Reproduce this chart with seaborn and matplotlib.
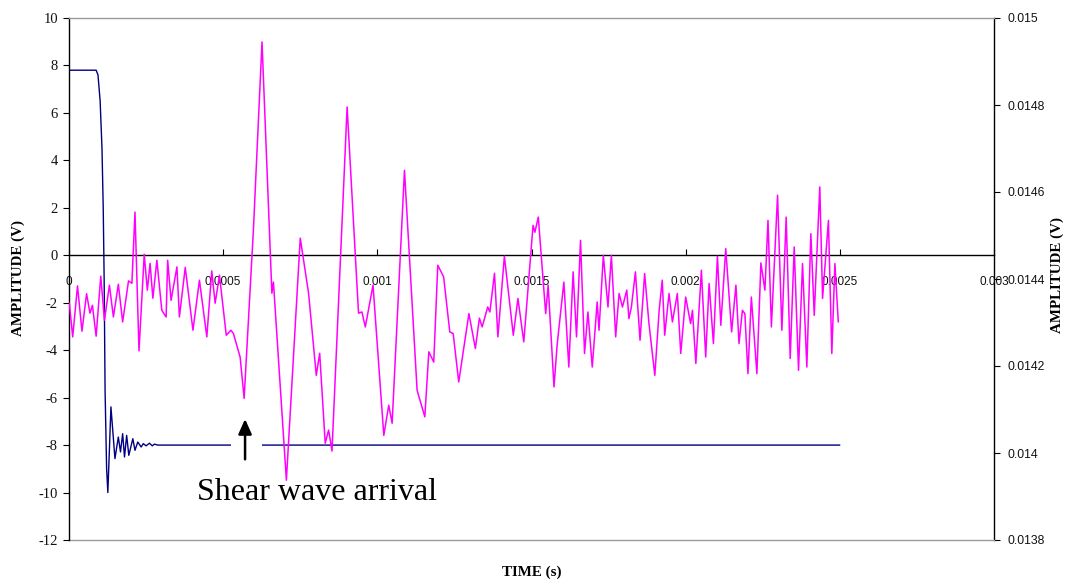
import matplotlib
matplotlib.use("Agg")
import matplotlib.pyplot as plt
import seaborn as sns
from matplotlib.patches import Rectangle

# Received signal (left axis, V)
rx_time = [1e-6, 12e-6, 27.6e-6, 42e-6, 57e-6, 68e-6, 76e-6, 88e-6, 103e-6, 115e-6,
           131e-6, 144e-6, 160e-6, 174e-6, 193e-6, 204e-6, 214e-6, 227e-6, 244e-6, 254e-6,
           263e-6, 272e-6, 285e-6, 301e-6, 315e-6, 320e-6, 331e-6, 350e-6, 358e-6, 377e-6,
           402e-6, 423e-6, 447e-6, 463e-6, 474e-6, 488e-6, 510e-6, 525e-6, 533e-6, 555e-6,
           568e-6, 598e-6, 626e-6, 658e-6, 663e-6, 705e-6, 750e-6, 777e-6, 802e-6, 813e-6,
           831e-6, 842e-6, 853e-6, 902e-6, 939e-6, 950e-6, 961e-6, 986e-6, 1021e-6, 1037e-6,
           1048e-6, 1088e-6, 1129e-6, 1154e-6, 1167e-6, 1183e-6, 1196e-6, 1215e-6, 1235e-6, 1246e-6,
           1264e-6, 1297e-6, 1318e-6, 1331e-6, 1340e-6, 1358e-6, 1365e-6, 1380e-6, 1391e-6, 1412e-6,
           1441e-6, 1456e-6, 1475e-6, 1505e-6, 1511e-6, 1522e-6, 1546e-6, 1554e-6, 1573e-6, 1583e-6,
           1605e-6, 1621e-6, 1635e-6, 1646e-6, 1659e-6, 1672e-6, 1683e-6, 1697e-6, 1713e-6, 1719e-6,
           1733e-6, 1748e-6, 1759e-6, 1773e-6, 1784e-6, 1795e-6, 1809e-6, 1816e-6, 1824e-6, 1837e-6,
           1852e-6, 1867e-6, 1881e-6, 1900e-6, 1914e-6, 1924e-6, 1932e-6, 1946e-6, 1957e-6, 1973e-6,
           1984e-6, 2000e-6, 2016e-6, 2022e-6, 2033e-6, 2051e-6, 2065e-6, 2076e-6, 2090e-6, 2103e-6,
           2114e-6, 2130e-6, 2149e-6, 2163e-6, 2173e-6, 2184e-6, 2192e-6, 2202e-6, 2213e-6, 2231e-6,
           2244e-6, 2257e-6, 2267e-6, 2278e-6, 2298e-6, 2312e-6, 2326e-6, 2339e-6, 2352e-6, 2366e-6,
           2379e-6, 2393e-6, 2406e-6, 2417e-6, 2435e-6, 2444e-6, 2463e-6, 2474e-6, 2484e-6, 2495e-6]
rx_amp = [-2.02, -3.44, -1.29, -3.20, -1.62, -2.44, -2.11, -3.41, -0.88, -2.74,
          -1.26, -2.60, -1.22, -2.81, -1.08, -1.18, 1.82, -4.03, 0.04, -1.47,
          -0.34, -1.81, -0.21, -2.32, -2.60, -0.21, -1.90, -0.49, -2.60, -0.51,
          -3.16, -1.05, -3.44, -0.66, -2.02, -0.84, -3.37, -3.16, -3.29, -4.29,
          -6.03, 1.05, 8.99, -1.60, -1.13, -9.48, 0.72, -1.60, -5.06, -4.13,
          -7.92, -7.37, -8.25, 6.25, -2.44, -2.39, -3.02, -1.26, -7.59, -6.32,
          -7.08, 3.58, -5.69, -6.81, -4.07, -4.50, -0.42, -0.91, -3.23, -3.30,
          -5.34, -2.46, -3.93, -2.65, -3.02, -2.18, -2.39, -0.76, -3.44, -0.04,
          -3.37, -1.82, -3.65, 1.26, 0.97, 1.61, -2.46, -1.26, -5.55, -3.79,
          -1.13, -4.71, -0.70, -3.44, 0.63, -4.14, -2.39, -4.71, -1.97, -3.16,
          0.00, -2.18, 0.00, -3.44, -1.61, -2.18, -1.47, -2.67, -2.18, -0.70,
          -3.58, -0.77, -2.88, -5.06, -2.32, -1.05, -3.37, -1.61, -2.81, -1.61,
          -4.14, -1.76, -2.88, -2.32, -4.56, -0.63, -4.29, -1.19, -3.72, -0.04,
          -2.95, 0.28, -3.23, -1.26, -3.72, -2.32, -2.46, -4.99, -1.76, -4.99,
          -0.32, -1.47, 1.47, -3.02, 2.53, -3.16, 1.61, -4.35, 0.35, -4.85,
          -0.35, -4.71, 0.91, -2.53, 2.88, -1.82, 1.47, -4.14, -0.35, -2.81]

# Transmitted pulse (right axis, V)
tx_time = [0.0, 88e-6, 94e-6, 101e-6, 107e-6, 111e-6, 114e-6, 117e-6, 122e-6, 126e-6,
           136e-6, 149e-6, 160e-6, 167e-6, 174e-6, 180e-6, 187e-6, 194e-6, 207e-6, 214e-6,
           223e-6, 234e-6, 241e-6, 250e-6, 261e-6, 270e-6, 277e-6, 288e-6, 315e-6, 2500e-6]
tx_amp = [0.014880, 0.014880, 0.0148691, 0.0148091, 0.0147000, 0.0145636, 0.0144000, 0.0141436,
          0.0139636, 0.0139091, 0.0141060, 0.0139871, 0.0140367, 0.0140024, 0.0140444, 0.0139909,
          0.0140405, 0.0139947, 0.0140329, 0.0140062, 0.0140253, 0.0140138, 0.0140215, 0.0140165,
          0.0140225, 0.0140165, 0.0140204, 0.0140182, 0.0140182, 0.0140182]

left_ticks = [-12, -10, -8, -6, -4, -2, 0, 2, 4, 6, 8, 10]
right_ticks = [0.0138, 0.0140, 0.0142, 0.0144, 0.0146, 0.0148, 0.0150]
right_labels = ["0.0138", "0.014", "0.0142", "0.0144", "0.0146", "0.0148", "0.015"]
x_ticks = [0, 0.0005, 0.001, 0.0015, 0.002, 0.0025, 0.003]
x_labels = ["0", "0.0005", "0.001", "0.0015", "0.002", "0.0025", "0.003"]

sns.set_style("white")
W, H = 1071, 583
fig = plt.figure(figsize=(W / 100, H / 100), dpi=100)
ax = fig.add_axes([69 / W, 1 - 540 / H, (994 - 69) / W, (540 - 18) / H])
ax2 = ax.twinx()
ax.set_zorder(ax2.get_zorder() + 1)
ax.patch.set_visible(False)

sns.lineplot(x=tx_time, y=tx_amp, ax=ax2, color="#000080", linewidth=1.0,
             estimator=None, sort=False)
sns.lineplot(x=rx_time, y=rx_amp, ax=ax, color="#FF00FF", linewidth=1.1,
             estimator=None, sort=False, zorder=3)

ax.set_xlim(0, 0.003)
ax.set_ylim(-12, 10)
ax2.set_ylim(0.0138, 0.015)
ax.set_xlabel("")
ax.set_ylabel("")
ax2.set_ylabel("")

# x axis runs through zero; the plot frame is drawn in grey
ax.spines["bottom"].set_position(("data", 0))
ax.spines["bottom"].set_color("black")
ax.spines["left"].set_color("black")
ax.spines["top"].set_color("#9a9a9a")
ax.spines["right"].set_visible(False)
ax2.spines["left"].set_visible(False)
ax2.spines["top"].set_visible(False)
ax2.spines["bottom"].set_color("#9a9a9a")
ax2.spines["right"].set_color("black")
for sp in list(ax.spines.values()) + list(ax2.spines.values()):
    sp.set_linewidth(1.0)

ax.set_xticks(x_ticks)
ax.set_xticklabels(x_labels, family="Liberation Sans", fontsize=8.5, color="#111111")
ax.tick_params(axis="x", direction="in", length=4, pad=15, bottom=True, color="black")
ax.set_yticks(left_ticks)
ax.set_yticklabels([str(v) for v in left_ticks], family="Liberation Serif", fontsize=10.5,
                   color="#111111")
ax.tick_params(axis="y", direction="out", length=4, pad=4, left=True, color="black")
ax2.set_yticks(right_ticks)
ax2.set_yticklabels(right_labels, family="Liberation Sans", fontsize=8.8, color="#111111")
ax2.tick_params(axis="y", direction="out", length=4, pad=6, right=True, color="black")
ax2.tick_params(axis="x", bottom=False, labelbottom=False)

# annotation: arrow marking the shear wave arrival
ax.add_patch(Rectangle((0.000526, -8.6), 0.000101, 1.2, facecolor="white",
                       edgecolor="none", zorder=2))
ax.annotate("", xy=(0.000571, -6.9), xytext=(0.000571, -8.6),
            arrowprops=dict(arrowstyle="-|>,head_length=0.9,head_width=0.4",
                            color="black", lw=1.8, shrinkA=0, shrinkB=0), zorder=4)
ax.text(0.000415, -9.99, "Shear wave arrival", family="Liberation Serif", fontsize=23,
        va="center", ha="left", color="black", zorder=4)

lab = dict(family="Liberation Serif", fontweight="bold", fontsize=10.8, color="black")
fig.text(532 / W, 1 - 572 / H, "TIME (s)", ha="center", va="center", **lab)
fig.text(18 / W, 1 - 278 / H, "AMPLITUDE (V)", ha="center", va="center", rotation=90, **lab)
fig.text(1057 / W, 1 - 275 / H, "AMPLITUDE (V)", ha="center", va="center", rotation=90, **lab)

fig.savefig("out.png", dpi=100)
